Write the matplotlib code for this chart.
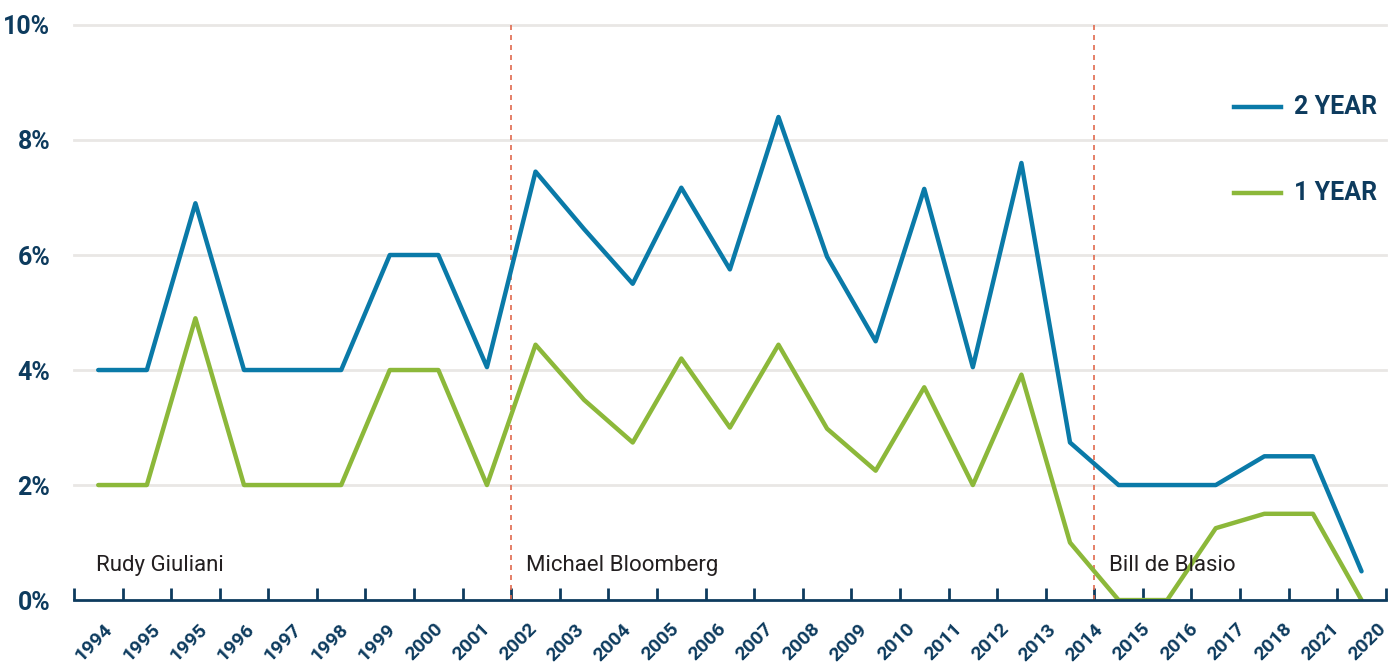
import matplotlib
matplotlib.use('Agg')
import matplotlib.pyplot as plt
import matplotlib.transforms as mtrans
import numpy as np

# tick labels (as printed on the chart)
year_labels = ['1994', '1995', '1995', '1996', '1997', '1998', '1999', '2000', '2001',
               '2002', '2003', '2004', '2005', '2006', '2007', '2008', '2009', '2010',
               '2011', '2012', '2013', '2014', '2015', '2016', '2017', '2018', '2021', '2020']

# rent guideline increases, %
two_year = [4.0, 4.0, 6.9, 4.0, 4.0, 4.0, 6.0, 6.0, 4.05, 7.45, 6.45, 5.5, 7.17, 5.75,
            8.4, 5.97, 4.5, 7.15, 4.05, 7.6, 2.74, 2.0, 2.0, 2.0, 2.5, 2.5, 0.5]
one_year = [2.0, 2.0, 4.9, 2.0, 2.0, 2.0, 4.0, 4.0, 2.0, 4.44, 3.48, 2.74, 4.2, 3.0,
            4.44, 2.98, 2.25, 3.7, 2.0, 3.92, 1.0, 0.0, 0.0, 1.25, 1.5, 1.5, 0.0]

mayors = ['Rudy Giuliani', 'Michael Bloomberg', 'Bill de Blasio']
mayor_start = [0, 9, 21]

blue = '#0a7aa8'
green = '#8cb83a'
navy = '#0d3b5e'
grid_c = '#e9e7e5'
red = '#e06a4e'

plt.rcParams['font.family'] = ['Roboto', 'DejaVu Sans']

fig = plt.figure(figsize=(13.9, 6.66), dpi=100)
ax = fig.add_axes([0.0532, 0.099, 0.9438, 0.8635])

x = np.arange(len(two_year)) + 0.5
ax.plot(x, two_year, color=blue, lw=3.2, solid_joinstyle='round', solid_capstyle='round', zorder=3)
ax.plot(x, one_year, color=green, lw=3.2, solid_joinstyle='round', solid_capstyle='round', zorder=3)

ax.set_xlim(0, len(year_labels) - 1)
ax.set_ylim(0, 10)

for yv in [2, 4, 6, 8, 10]:
    ax.axhline(yv, color=grid_c, lw=2, zorder=1, clip_on=False)

for s in ['top', 'right', 'left']:
    ax.spines[s].set_visible(False)
ax.spines['bottom'].set_color(navy)
ax.spines['bottom'].set_linewidth(2)
ax.spines['bottom'].set_zorder(4)

ax.set_yticks([0, 2, 4, 6, 8, 10])
ax.set_yticklabels([f'{v}%' for v in [0, 2, 4, 6, 8, 10]], fontsize=18,
                   fontweight='bold', color=navy)
ax.tick_params(axis='y', length=0, pad=17)

ax.set_xticks(np.arange(len(year_labels)))
ax.set_xticklabels(year_labels, rotation=45, ha='right', va='center',
                   rotation_mode='anchor', fontsize=14, fontweight='bold', color=navy)
ax.tick_params(axis='x', direction='in', length=9, width=2, color=navy, pad=19)
# the printed labels drift slightly against the tick marks
for i, lab in enumerate(ax.get_xticklabels()):
    shift = (36 - 1.42 * i) / 100
    lab.set_transform(lab.get_transform() + mtrans.ScaledTranslation(shift, 0, fig.dpi_scale_trans))

for name, start in zip(mayors, mayor_start):
    if start > 0:
        ax.axvline(start, color=red, lw=1.2, ls=(0, (3, 3)), zorder=2)
        pad_x = 0.3
    else:
        pad_x = 0.45
    ax.text(start + pad_x, 0.42, name, fontsize=16, color='#231f20', va='bottom', ha='left')

# legend drawn by hand
ax.plot([0.884, 0.92], [0.857, 0.857], transform=ax.transAxes, color=blue, lw=3.2, clip_on=False)
ax.text(0.93, 0.857, '2 YEAR', transform=ax.transAxes, fontsize=18, fontweight='bold',
        color=navy, va='center', ha='left')
ax.plot([0.884, 0.92], [0.708, 0.708], transform=ax.transAxes, color=green, lw=3.2, clip_on=False)
ax.text(0.93, 0.708, '1 YEAR', transform=ax.transAxes, fontsize=18, fontweight='bold',
        color=navy, va='center', ha='left')

fig.savefig('out.png', dpi=100, facecolor='white')
